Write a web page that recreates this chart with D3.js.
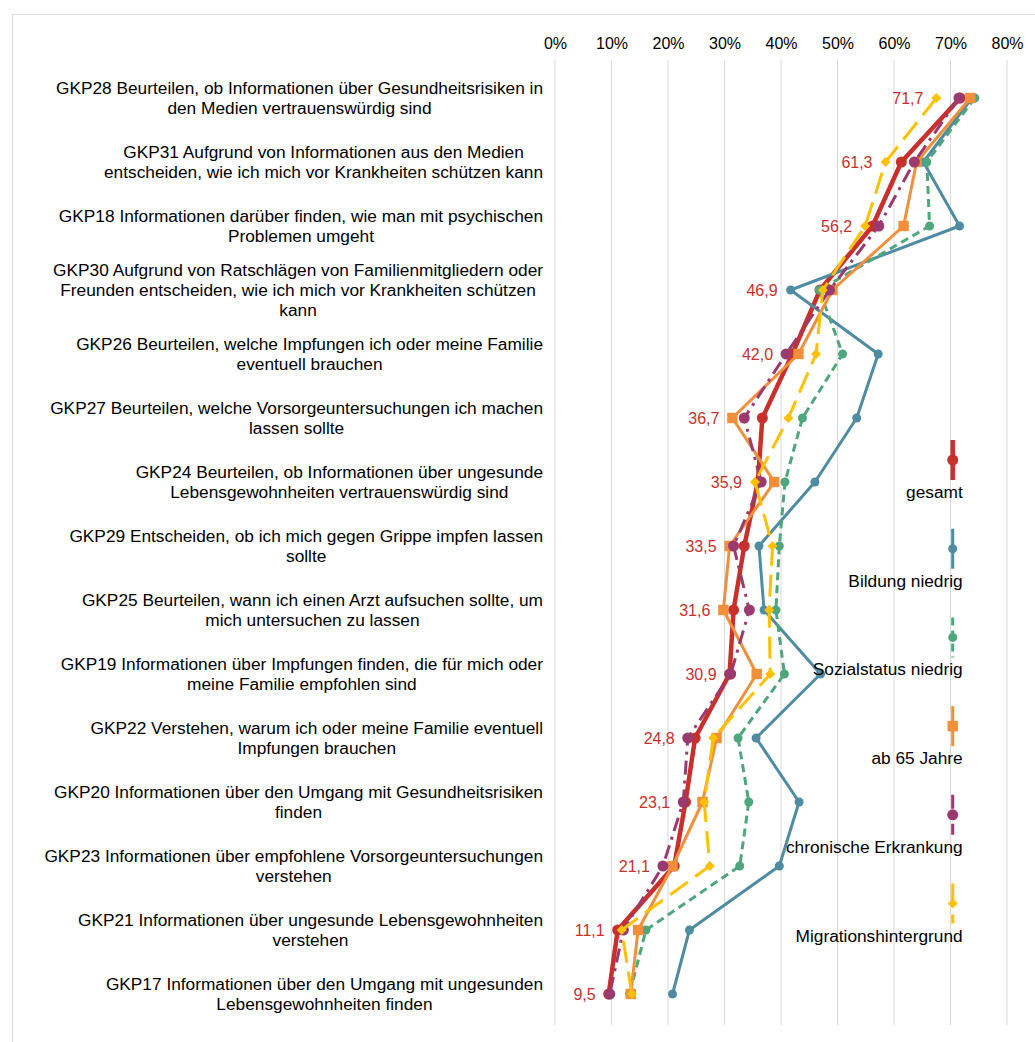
<!DOCTYPE html>
<html>
<head>
<meta charset="utf-8">
<script src="https://cdn.jsdelivr.net/npm/d3@7"></script>
<style>
  html, body { margin: 0; padding: 0; background: #ffffff; }
  svg { display: block; font-family: "Liberation Sans", Arial, sans-serif; }
</style>
</head>
<body>
<svg id="chart" width="1035" height="1042"></svg>
<script>
// Items (top to bottom); "|" marks the line breaks of each label
const categories = [
  "GKP28 Beurteilen, ob Informationen über Gesundheitsrisiken in|den Medien vertrauenswürdig sind",
  "GKP31 Aufgrund von Informationen aus den Medien|entscheiden, wie ich mich vor Krankheiten schützen kann",
  "GKP18 Informationen darüber finden, wie man mit psychischen|Problemen umgeht",
  "GKP30 Aufgrund von Ratschlägen von Familienmitgliedern oder|Freunden entscheiden, wie ich mich vor Krankheiten schützen|kann",
  "GKP26 Beurteilen, welche Impfungen ich oder meine Familie|eventuell brauchen",
  "GKP27 Beurteilen, welche Vorsorgeuntersuchungen ich machen|lassen sollte",
  "GKP24 Beurteilen, ob Informationen über ungesunde|Lebensgewohnheiten vertrauenswürdig sind",
  "GKP29 Entscheiden, ob ich mich gegen Grippe impfen lassen|sollte",
  "GKP25 Beurteilen, wann ich einen Arzt aufsuchen sollte, um|mich untersuchen zu lassen",
  "GKP19 Informationen über Impfungen finden, die für mich oder|meine Familie empfohlen sind",
  "GKP22 Verstehen, warum ich oder meine Familie eventuell|Impfungen brauchen",
  "GKP20 Informationen über den Umgang mit Gesundheitsrisiken|finden",
  "GKP23 Informationen über empfohlene Vorsorgeuntersuchungen|verstehen",
  "GKP21 Informationen über ungesunde Lebensgewohnheiten|verstehen",
  "GKP17 Informationen über den Umgang mit ungesunden|Lebensgewohnheiten finden"
];

// Share of respondents (%) per group, same order as categories
const gesamt      = [71.7, 61.3, 56.2, 46.9, 42.0, 36.7, 35.9, 33.5, 31.6, 30.9, 24.8, 23.1, 21.1, 11.1, 9.5];
const bildung     = [73.8, 65.2, 71.6, 41.7, 57.2, 53.4, 46.0, 36.1, 37.0, 47.0, 35.6, 43.2, 39.7, 23.8, 20.8];
const sozial      = [74.3, 65.8, 66.3, 46.8, 50.9, 43.8, 40.7, 39.7, 39.1, 40.6, 32.4, 34.3, 32.7, 16.1, 13.2];
const ab65        = [73.5, 64.0, 61.7, 49.1, 43.1, 31.4, 38.8, 30.9, 29.8, 35.7, 28.6, 26.1, 20.8, 14.7, 13.4];
const chronisch   = [71.5, 63.6, 57.3, 48.6, 40.9, 33.5, 36.5, 31.6, 34.4, 31.1, 23.5, 22.7, 19.1, 12.1, 9.7];
const migration   = [67.5, 58.5, 54.9, 47.4, 46.2, 41.3, 35.4, 38.5, 37.9, 38.1, 28.0, 26.4, 27.4, 11.8, 13.6];

const seriesNames = ["gesamt", "Bildung niedrig", "Sozialstatus niedrig", "ab 65 Jahre", "chronische Erkrankung", "Migrationshintergrund"];
const seriesValues = [gesamt, bildung, sozial, ab65, chronisch, migration];

const xTicks = [0, 10, 20, 30, 40, 50, 60, 70, 80];

// Visual style per series (size = marker half-width)
const styles = [
  { color: "#c9302c", width: 4.5, dash: null,          marker: "circle",  size: 5.5 },
  { color: "#4f8ba1", width: 3,   dash: null,          marker: "circle",  size: 4.5 },
  { color: "#4ea67c", width: 3,   dash: "8,5",         marker: "circle",  size: 4.5 },
  { color: "#f18f3b", width: 3,   dash: null,          marker: "square",  size: 5.2 },
  { color: "#9b3a6e", width: 3,   dash: "14,6,3,6",    marker: "circle",  size: 5.5 },
  { color: "#ffc000", width: 3,   dash: "22,9",        marker: "diamond", size: 5 }
];

const svg = d3.select("#chart");
const TICK_FONT = 16;
const LABEL_FONT = 17.3;

// outer frame
svg.append("rect")
  .attr("x", 12.5).attr("y", 14.5)
  .attr("width", 1040).attr("height", 1040)
  .attr("fill", "none").attr("stroke", "#d9d9d9").attr("stroke-width", 1);

const x = d3.scaleLinear().domain([0, 80]).range([555, 1007]);
const y = d3.scalePoint().domain(d3.range(categories.length)).range([98, 994]);
const gridTop = 60, gridBottom = 1025;

// vertical gridlines
svg.append("g").selectAll("line").data(xTicks).join("line")
  .attr("x1", d => x(d)).attr("x2", d => x(d))
  .attr("y1", gridTop).attr("y2", gridBottom)
  .attr("stroke", "#d9d9d9").attr("stroke-width", 1);

// top axis labels
const axis = d3.axisTop(x).tickValues(xTicks).tickFormat(d => d + "%").tickSize(0).tickPadding(0);
const axisG = svg.append("g").attr("transform", "translate(0,49)").call(axis);
axisG.select(".domain").remove();
axisG.selectAll("text")
  .attr("font-size", TICK_FONT).attr("fill", "#000")
  .attr("font-family", "Liberation Sans, Arial, sans-serif");

// category labels: each block has centred lines, block right-aligned at the plot
const labelRight = 543, lineH = 20;
const catG = svg.append("g").attr("font-size", LABEL_FONT).attr("fill", "#000");
categories.forEach((lab, i) => {
  const lines = lab.split("|");
  const t = catG.append("text").attr("text-anchor", "middle");
  const spans = lines.map((ln, k) => t.append("tspan")
    .attr("y", y(i) + (k - (lines.length - 1) / 2) * lineH)
    .attr("dy", "0.35em").text(ln));
  const maxW = d3.max(spans, s => s.node().getComputedTextLength());
  const cx = labelRight - maxW / 2;
  spans.forEach(s => s.attr("x", cx));
});

// marker shapes
function markerPath(kind, r) {
  if (kind === "circle") return d3.symbol().type(d3.symbolCircle).size(Math.PI * r * r)();
  if (kind === "square") return `M${-r},${-r}H${r}V${r}H${-r}Z`;
  return `M0,${-r}L${r},0L0,${r}L${-r},0Z`;
}

// series lines and markers
const line = d3.line().x(d => x(d.v)).y(d => y(d.i));

seriesValues.forEach((vals, si) => {
  const st = styles[si];
  const pts = vals.map((v, i) => ({ v, i }));
  const g = svg.append("g");
  g.append("path").datum(pts)
    .attr("d", line)
    .attr("fill", "none")
    .attr("stroke", st.color)
    .attr("stroke-width", st.width)
    .attr("stroke-linejoin", "round")
    .attr("stroke-dasharray", st.dash);
  g.selectAll("path.m").data(pts).join("path")
    .attr("class", "m")
    .attr("transform", d => `translate(${x(d.v)},${y(d.i)})`)
    .attr("d", markerPath(st.marker, st.size))
    .attr("fill", st.color);
});

// value labels for "gesamt", placed left of the leftmost mark in the row
const fmt = v => v.toFixed(1).replace(".", ",");
svg.append("g").selectAll("text").data(gesamt).join("text")
  .attr("x", (v, i) => x(d3.min(seriesValues, s => s[i])) - 13)
  .attr("y", (v, i) => y(i))
  .attr("dy", "0.35em")
  .attr("text-anchor", "end")
  .attr("font-size", TICK_FONT)
  .attr("fill", styles[0].color)
  .text(fmt);

// legend: short vertical line sample with marker, name beneath
const legX = 952.7, legTop = 460, legStep = 88.7;
seriesNames.forEach((name, si) => {
  const st = styles[si];
  const cy = legTop + si * legStep;
  const g = svg.append("g");
  g.append("line")
    .attr("x1", legX).attr("x2", legX)
    .attr("y1", cy - 20).attr("y2", cy + 20)
    .attr("stroke", st.color).attr("stroke-width", st.width)
    .attr("stroke-dasharray", st.dash);
  g.append("path")
    .attr("transform", `translate(${legX},${cy})`)
    .attr("d", markerPath(st.marker, st.size))
    .attr("fill", st.color);
  g.append("text")
    .attr("x", 962.7).attr("y", cy + 32)
    .attr("dy", "0.35em")
    .attr("text-anchor", "end")
    .attr("font-size", LABEL_FONT)
    .attr("fill", "#000")
    .text(name);
});
</script>
</body>
</html>
